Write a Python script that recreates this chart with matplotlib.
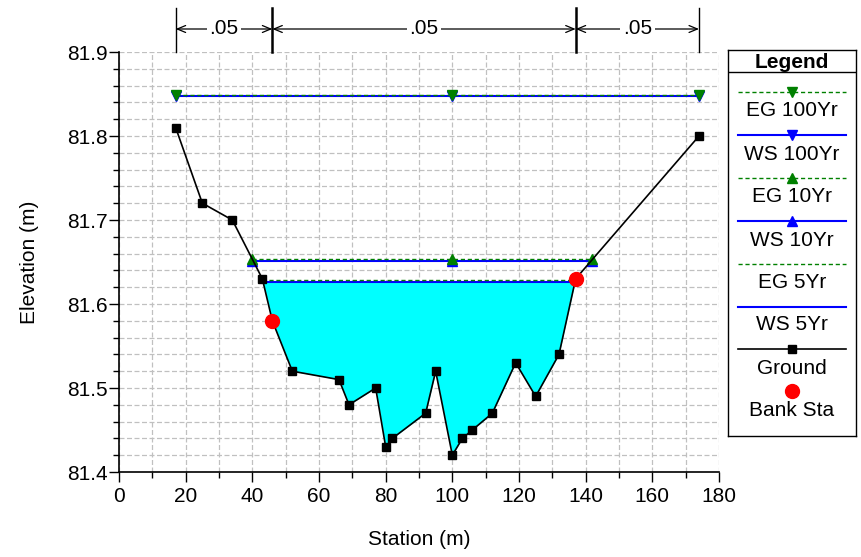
import matplotlib
matplotlib.use("Agg")
import matplotlib.pyplot as plt
import matplotlib.transforms as mtransforms
import numpy as np

plt.rcParams['font.family'] = ['Liberation Sans', 'DejaVu Sans']

# ---- data ----
ground_x = [17, 25, 34, 43, 46, 52, 66, 69, 77, 80, 82, 92, 95, 100, 103, 106, 112, 119, 125, 132, 137, 174]
ground_y = [81.81, 81.72, 81.70, 81.63, 81.58, 81.52, 81.51, 81.48, 81.50, 81.43, 81.44, 81.47, 81.52, 81.42,
            81.44, 81.45, 81.47, 81.53, 81.49, 81.54, 81.63, 81.80]
bank_x = [46, 137]
bank_y = [81.58, 81.63]

eg100_x = [17, 100, 174]
eg100_y = [81.849, 81.849, 81.849]
ws100_x = [17, 100, 174]
ws100_y = [81.848, 81.848, 81.848]
eg10_x = [40, 100, 142]
eg10_y = [81.654, 81.654, 81.654]
ws10_x = [40, 100, 142]
ws10_y = [81.651, 81.651, 81.651]
eg5_x = [43, 137]
eg5_y = [81.628, 81.628]
ws5_x = [43, 137]
ws5_y = [81.626, 81.626]

n_breaks = [17, 46, 137, 174]
n_values = ['.05', '.05', '.05']

legend_labels = ['EG 100Yr', 'WS 100Yr', 'EG 10Yr', 'WS 10Yr', 'EG 5Yr', 'WS 5Yr', 'Ground', 'Bank Sta']

GREEN = '#008000'
BLUE = '#0000FF'
FS = 15

W, H = 861, 557
fig = plt.figure(figsize=(W / 100, H / 100), dpi=100)
L, R, T, B = 119, 719, 52, 472
ax = fig.add_axes([L / W, (H - B) / H, (R - L) / W, (B - T) / H])

ax.set_xlim(0, 180)
ax.set_ylim(81.4, 81.9)
ax.set_xticks(np.arange(0, 181, 20))
ax.set_xticks(np.arange(0, 181, 10), minor=True)
ax.set_yticks(np.arange(81.4, 81.91, 0.1))
ax.set_yticks(np.arange(81.4, 81.91, 0.02), minor=True)
ax.set_yticklabels([f"{v:.1f}" for v in np.arange(81.4, 81.91, 0.1)])
ax.tick_params(which='major', direction='out', length=7, width=1, labelsize=FS, colors='black')
ax.tick_params(axis='y', which='major', pad=1)
ax.tick_params(axis='x', which='major', pad=4)
ax.tick_params(which='minor', direction='out', length=4, width=1)
ax.grid(which='both', color='#c0c0c0', linestyle=(0, (4, 2)), linewidth=0.9)
ax.set_axisbelow(True)
for s in ['top', 'right']:
    ax.spines[s].set_visible(False)
ax.spines['left'].set_linewidth(1.2)
ax.spines['bottom'].set_linewidth(1.2)

ax.set_xlabel('Station (m)', fontsize=FS, labelpad=17)
ax.set_ylabel('Elevation (m)', fontsize=FS, labelpad=20)

# fill under WS 5Yr
gx = np.array(ground_x, dtype=float)
gy = np.array(ground_y, dtype=float)
ws5 = ws5_y[0]
ax.fill_between(gx, gy, ws5, where=(gy <= ws5 + 0.004) & (gx >= ws5_x[0]) & (gx <= ws5_x[1]),
                interpolate=True, color='#00FFFF', zorder=2, linewidth=0)

# water surfaces / energy grades
ax.plot(ws5_x, ws5_y, color=BLUE, lw=1.5, zorder=3)
ax.plot(eg5_x, eg5_y, color=GREEN, lw=1.0, ls=(0, (3, 2)), zorder=3)
ax.plot(ws10_x, ws10_y, color=BLUE, lw=1.5, marker='^', ms=6.5, zorder=3)
ax.plot(eg10_x, eg10_y, color=GREEN, lw=1.0, ls=(0, (3, 2)), marker='^', ms=7, zorder=4)
ax.plot(ws100_x, ws100_y, color=BLUE, lw=1.5, marker='v', ms=6.5, zorder=3)
ax.plot(eg100_x, eg100_y, color=GREEN, lw=1.0, ls=(0, (3, 2)), marker='v', ms=7, zorder=4)

# ground
ax.plot(ground_x, ground_y, color='black', lw=1.2, marker='s', ms=6, zorder=5)
ax.plot(bank_x, bank_y, ls='none', marker='o', color='#FF0000', ms=10, zorder=6)

# Manning's n annotations above the axes
trans = mtransforms.blended_transform_factory(ax.transData, fig.transFigure)
y_top = (H - 8) / H
y_bot = (H - T) / H
y_arr = (H - 29) / H
for i, xb in enumerate(n_breaks):
    lw = 1.8 if xb in bank_x else 1.0
    ax.plot([xb, xb], [y_bot, y_top], transform=trans, color='black', lw=lw, clip_on=False)
for i, val in enumerate(n_values):
    x0, x1 = n_breaks[i], n_breaks[i + 1]
    ax.annotate('', xy=(x0, y_arr), xytext=(x1, y_arr), xycoords=trans, textcoords=trans,
                arrowprops=dict(arrowstyle='<->,head_length=0.6,head_width=0.25', color='black', lw=0.9,
                                shrinkA=0, shrinkB=0), annotation_clip=False)
    ax.text((x0 + x1) / 2, y_arr, val, transform=trans, ha='center', va='center', fontsize=FS,
            bbox=dict(facecolor='white', edgecolor='none', pad=2), clip_on=False)

# custom legend box
lx0, lx1, ly0, ly1 = 728, 856, 50, 436
lax = fig.add_axes([lx0 / W, (H - ly1) / H, (lx1 - lx0) / W, (ly1 - ly0) / H])
lax.set_xlim(lx0, lx1)
lax.set_ylim(ly1, ly0)
lax.set_xticks([])
lax.set_yticks([])
for s in lax.spines.values():
    s.set_linewidth(1.0)
lax.plot([lx0, lx1], [72, 72], color='black', lw=1.0)
cx = (lx0 + lx1) / 2
lax.text(cx, 62, 'Legend', ha='center', va='center', fontsize=FS, fontweight='bold')
line_ys = [92, 135, 178, 221, 264, 307, 349, 391]
text_ys = [111, 154, 197, 240, 282, 325, 368, 410]
styles = [
    dict(color=GREEN, lw=1.0, ls=(0, (3, 2)), marker='v', ms=7),
    dict(color=BLUE, lw=1.5, ls='-', marker='v', ms=7),
    dict(color=GREEN, lw=1.0, ls=(0, (3, 2)), marker='^', ms=7),
    dict(color=BLUE, lw=1.5, ls='-', marker='^', ms=7),
    dict(color=GREEN, lw=1.0, ls=(0, (3, 2)), marker=None, ms=7),
    dict(color=BLUE, lw=1.5, ls='-', marker=None, ms=7),
    dict(color='black', lw=1.2, ls='-', marker='s', ms=6),
    dict(color='#FF0000', lw=0, ls='none', marker='o', ms=10),
]
for lab, ly, ty, st in zip(legend_labels, line_ys, text_ys, styles):
    if st['ls'] != 'none':
        lax.plot([738, 846], [ly, ly], color=st['color'], lw=st['lw'], ls=st['ls'])
    if st['marker']:
        lax.plot([cx], [ly], ls='none', marker=st['marker'], color=st['color'], ms=st['ms'])
    lax.text(cx, ty, lab, ha='center', va='center', fontsize=FS)

fig.savefig('out.png', dpi=100)
